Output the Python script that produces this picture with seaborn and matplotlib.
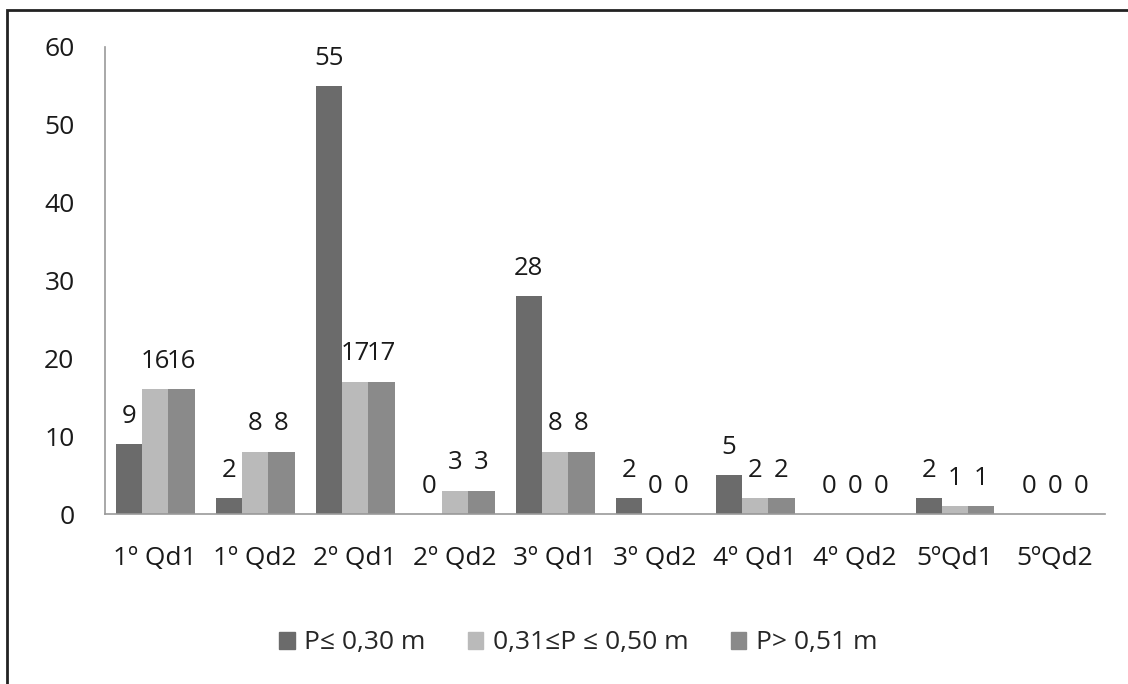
import matplotlib
matplotlib.use("Agg")
import matplotlib.pyplot as plt
import matplotlib.patches as mpatches
import seaborn as sns
import pandas as pd

categories = ["1º Qd1", "1º Qd2", "2º Qd1", "2º Qd2", "3º Qd1",
              "3º Qd2", "4º Qd1", "4º Qd2", "5ºQd1", "5ºQd2"]
series_names = ["P≤ 0,30 m", "0,31≤P ≤ 0,50 m", "P> 0,51 m"]
p_low = [9, 2, 55, 0, 28, 2, 5, 0, 2, 0]
p_mid = [16, 8, 17, 3, 8, 0, 2, 0, 1, 0]
p_high = [16, 8, 17, 3, 8, 0, 2, 0, 1, 0]
colors = ["#6b6b6b", "#bababa", "#8a8a8a"]

rows = []
for name, vals in zip(series_names, [p_low, p_mid, p_high]):
    for cat, v in zip(categories, vals):
        rows.append({"cat": cat, "serie": name, "valor": v})
df = pd.DataFrame(rows)

sns.set_theme(style="white")
plt.rcParams["font.family"] = ["Open Sans", "DejaVu Sans"]

FS = 19
fig = plt.figure(figsize=(11.28, 6.84), dpi=100)
ax = fig.add_axes([105 / 1128, 1 - 514 / 684, 1000 / 1128, (514 - 47) / 684])

sns.barplot(data=df, x="cat", y="valor", hue="serie", hue_order=series_names,
            palette=colors, width=0.79, saturation=1, linewidth=0, ax=ax)

for cont in ax.containers:
    ax.bar_label(cont, fmt="%d", padding=11, fontsize=18.5, color="#1a1a1a")

ax.set_ylim(0, 60)
ax.set_yticks(range(0, 61, 10))
ax.set_xlim(-0.5, len(categories) - 0.5)
ax.set_xlabel("")
ax.set_ylabel("")
ax.tick_params(axis="y", length=0, pad=22, labelsize=FS, labelcolor="#1a1a1a")
ax.tick_params(axis="x", length=0, pad=23, labelsize=FS, labelcolor="#1a1a1a")
for side in ["top", "right"]:
    ax.spines[side].set_visible(False)
for side in ["left", "bottom"]:
    ax.spines[side].set_color("#999999")
    ax.spines[side].set_linewidth(1.2)

ax.legend_.remove()
handles = [mpatches.Patch(color=c, label=n) for c, n in zip(colors, series_names)]
fig.legend(handles=handles, loc="center", bbox_to_anchor=(578 / 1128, 1 - 643 / 684),
           ncol=3, frameon=False, fontsize=FS, handlelength=0.6, handleheight=0.6,
           handletextpad=0.35, columnspacing=1.6, borderpad=0)

# outer frame of the figure
frame = mpatches.Rectangle((7 / 1128, -0.05), 1.2, 1 - 10 / 684 + 0.05,
                           transform=fig.transFigure, fill=False,
                           edgecolor="#222222", linewidth=2, clip_on=False)
fig.patches.append(frame)

fig.savefig("out.png", dpi=100, facecolor="white")
